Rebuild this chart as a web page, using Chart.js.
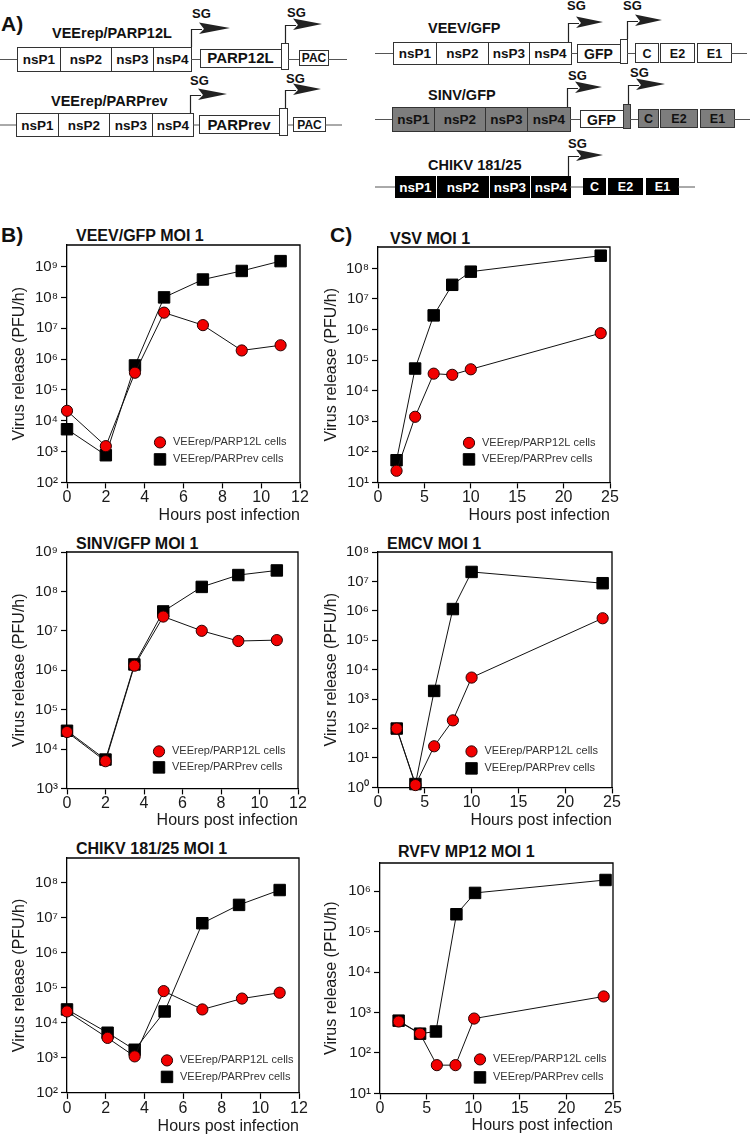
<!DOCTYPE html>
<html><head><meta charset="utf-8">
<script src="https://cdn.jsdelivr.net/npm/chart.js@4.4.1/dist/chart.umd.min.js"></script>
<style>
html,body{margin:0;padding:0;background:#fff;}
body{width:750px;height:1135px;position:relative;overflow:hidden;font-family:"Liberation Sans",Arial,sans-serif;}
#schem{position:absolute;left:0;top:0;}
canvas{position:absolute;}
</style></head><body>
<svg id="schem" width="750" height="1135" xmlns="http://www.w3.org/2000/svg"></svg>
<script>
// ---------------- DATA ----------------
const seriesLabels = ['VEErep/PARP12L cells', 'VEErep/PARPrev cells'];
const xAxisTitle = 'Hours post infection';
const yAxisTitle = 'Virus release (PFU/h)';

const veevX = [0, 2, 3.5, 5, 7, 9, 11];
const veevParp12L = [2.1e4, 1.5e3, 3.6e5, 3.2e7, 1.26e7, 1.9e6, 2.8e6];
const veevParpRev = [5.3e3, 7.6e2, 6.2e5, 1.0e8, 3.8e8, 7.2e8, 1.5e9];

const sinvX = [0, 2, 3.5, 5, 7, 8.9, 10.9];
const sinvParp12L = [2.7e4, 4.9e3, 1.3e6, 2.3e7, 1.0e7, 5.5e6, 5.8e6];
const sinvParpRev = [2.9e4, 5.4e3, 1.4e6, 3.1e7, 1.3e8, 2.6e8, 3.4e8];

const chikvXParp12L = [0, 2.1, 3.5, 5, 7, 9.05, 11];
const chikvXParpRev = [0, 2.1, 3.5, 5.05, 7, 8.9, 11];
const chikvParp12L = [2.1e4, 3.7e3, 1.1e3, 8.0e4, 2.4e4, 4.9e4, 7.2e4];
const chikvParpRev = [2.4e4, 5.2e3, 1.7e3, 2.1e4, 6.9e6, 2.3e7, 6.1e7];

const vsvX = [2, 4, 6, 8, 10, 24];
const vsvParp12L = [24, 1.4e3, 3.6e4, 3.3e4, 5.0e4, 7.6e5];
const vsvParpRev = [53, 5.3e4, 2.9e6, 2.9e7, 7.8e7, 2.6e8];

const emcvX = [2, 4, 6, 8, 10, 24];
const emcvParp12L = [100, 1.2, 25, 190, 5.4e3, 5.6e5];
const emcvParpRev = [100, 1.3, 1.9e3, 1.15e6, 2.1e7, 8.7e6];

const rvfvXParp12L = [2, 4.3, 6.1, 8.1, 10.1, 24];
const rvfvXParpRev = [2, 4.3, 6, 8.2, 10.2, 24.2];
const rvfvParp12L = [600, 300, 50, 50, 710, 2.5e3];
const rvfvParpRev = [630, 300, 340, 2.7e5, 9.1e5, 1.9e6];

const bTimeTicks = [0, 2, 4, 6, 8, 10, 12];
const cTimeTicks = [0, 5, 10, 15, 20, 25];

// ---------------- SCHEMATIC (panel A) + static texts ----------------
const FONT = '"Liberation Sans", Arial, Helvetica, sans-serif';
const svgNS = 'http://www.w3.org/2000/svg';
const svg = document.getElementById('schem');
function el(tag, attrs, txt){ const e=document.createElementNS(svgNS,tag); for(const k in attrs) e.setAttribute(k,attrs[k]); if(txt!=null) e.textContent=txt; svg.appendChild(e); return e; }
function rect(x1,y1,x2,y2,fill,stroke){ el('rect',{x:x1+0.5,y:y1+0.5,width:x2-x1,height:y2-y1,fill:fill||'#fff',stroke:stroke||'#333','stroke-width':1}); }
function line(x1,y1,x2,y2,c){ el('line',{x1:x1,y1:y1+0.5,x2:x2,y2:y2+0.5,stroke:c||'#555','stroke-width':1}); }
function text(x,y,s,size,o){ o=o||{}; el('text',{x:x,y:y,'font-size':size,'font-weight':o.w||'bold','font-family':FONT,fill:o.fill||'#111','text-anchor':o.anchor||'start'}, s); }
function arrow(x,yb,yt,tip){
  el('path',{d:`M${x+0.5},${yb} V${yt+0.5} H${x+11}`,fill:'none',stroke:'#222','stroke-width':1.2});
  el('path',{d:`M${x+8},${yt-6.5} L${tip},${yt-1} L${x+8},${yt+5} L${x+13},${yt} Z`,fill:'#222'});
}
function segs(xs,y1,y2,labels,fill,tcol,size,sep){
  for(let i=0;i<labels.length;i++){
    const a=xs[i][0], b=xs[i][1];
    rect(a,y1,b,y2,fill,sep?fill:'#333');
    text((a+b)/2+0.5,(y1+y2)/2+0.5+size*0.36,labels[i],size,{fill:tcol,anchor:'middle'});
  }
}
const nsLabels=['nsP1','nsP2','nsP3','nsP4'];
const strLabels=['C','E2','E1'];

text(1,31,'A)',21);
text(1,242,'B)',21);
text(330,242,'C)',21);

// Left: VEErep/PARP12L
text(52,37.5,'VEErep/PARP12L',14.5);
line(0,59,17,59);
segs([[17,60],[60,111],[111,153],[153,191]],47,71,nsLabels,'#fff','#111',13.5);
line(191,59,200,59);
rect(200,49,281,67); text(240.5,63,'PARP12L',15,{anchor:'middle'});
rect(281,43,288,69);
line(288,59,299,59);
rect(299,50,328,65); text(314,62,'PAC',12,{anchor:'middle'});
line(328,59,347,59);
arrow(191,47,29,230); text(192,18,'SG',13);
arrow(285,43,25,322); text(287,16.5,'SG',13);

// Left: VEErep/PARPrev
text(51,105.5,'VEErep/PARPrev',14.5);
line(0,124.5,16,124.5);
segs([[16,58],[58,109],[109,152],[152,193]],113,136,nsLabels,'#fff','#111',13.5);
line(193,124.5,199,124.5);
rect(199,115,279,133); text(239,129.5,'PARPrev',15,{anchor:'middle'});
rect(279,108,287,135);
line(287,124.5,293,124.5);
rect(293,117,325,131); text(309.5,128.5,'PAC',12,{anchor:'middle'});
line(325,124.5,342,124.5);
arrow(190,113,95,227); text(190,85,'SG',13);
arrow(285,108,90,321); text(286,82.5,'SG',13);

// Right: VEEV/GFP
text(428,33,'VEEV/GFP',14.5);
line(375,53,393,53);
segs([[393,436],[436,488],[488,529],[529,571]],42,64,nsLabels,'#fff','#111',13.5);
line(571,53,577,53);
rect(577,44,620,62); text(598.5,58.5,'GFP',14,{anchor:'middle'});
rect(620,39,627,63);
line(627,53,635,53);
segs([[635,658],[660,694],[697,731]],43,62,strLabels,'#fff','#111',12.5);
line(731,53,747,53);
arrow(568,42,23,603); text(567,10,'SG',13);
arrow(627,39,21,662); text(623,10,'SG',13);

// Right: SINV/GFP
const GR='#7d7d7d';
text(428,99.5,'SINV/GFP',14.5);
line(375,119,392,119);
segs([[392,434],[434,485],[485,527],[527,570]],107,131,nsLabels,GR,'#111',13.5);
line(570,119,580,119);
rect(580,110,623,127); text(601.5,124.5,'GFP',14,{anchor:'middle'});
rect(623,104,630,128,GR);
line(630,119,638,119);
segs([[638,658],[660,697],[700,734]],109,127,strLabels,GR,'#111',12.5);
line(734,119,750,119);
arrow(567,107,88,602); text(568,80,'SG',13);
arrow(628,104,85,665); text(630,76.5,'SG',13);

// Right: CHIKV 181/25
text(428,169.5,'CHIKV 181/25',14.5);
line(375,186.5,395,186.5);
segs([[395,435],[437,488],[490,529],[531,570]],176,197,nsLabels,'#000','#fff',13.5,true);
line(570,186.5,583,186.5);
segs([[583,605],[608,642],[646,678]],178,194,strLabels,'#000','#fff',12.5,true);
line(678,186.5,695,186.5);
arrow(568,176,156,603); text(568,147.5,'SG',13);

// ---------------- CHARTS ----------------
const SUP=['⁰','¹','²','³','⁴','⁵','⁶','⁷','⁸','⁹'];
const framePlugin={id:'frame',beforeDatasetsDraw(chart){const {ctx,chartArea:a}=chart;ctx.save();ctx.strokeStyle='#000';ctx.lineWidth=1.3;ctx.beginPath();ctx.moveTo(a.left,a.top);ctx.lineTo(a.right,a.top);ctx.lineTo(a.right,a.bottom);ctx.stroke();ctx.restore();}};
const legendPlugin={id:'inLegend',afterDatasetsDraw(chart,args,opts){
  const {ctx,chartArea:a}=chart; const x=a.left+opts.dx; const ys=[a.bottom+opts.dy1,a.bottom+opts.dy2];
  chart.data.datasets.forEach((ds,i)=>{
    ctx.save();
    ctx.fillStyle=ds.pointBackgroundColor; ctx.strokeStyle=ds.pointBorderColor; ctx.lineWidth=ds.pointBorderWidth;
    Chart.helpers.drawPoint(ctx,{pointStyle:ds.pointStyle,radius:ds.pointRadius,borderWidth:ds.pointBorderWidth,rotation:0},x,ys[i]);
    ctx.font='11px '+FONT; ctx.fillStyle='#333'; ctx.textBaseline='middle'; ctx.textAlign='left';
    ctx.fillText(ds.label,x+13,ys[i]);
    ctx.restore();
  });
}};

function pts(xs,ys){return xs.map((x,i)=>({x:x,y:ys[i]}));}

function buildChart(p){
  const padTop=12, padRight=22, padBottom=2;
  const cy=p.area.t-padTop;
  const W=p.area.r+padRight-p.cx;
  const xH=p.xTitleY+9.6-p.area.b;
  const H=Math.round(p.area.b+xH+padBottom-cy);
  const yW=p.area.l-p.cx;
  const cv=document.createElement('canvas');
  cv.width=W; cv.height=H; cv.style.left=p.cx+'px'; cv.style.top=cy+'px'; cv.style.width=W+'px'; cv.style.height=H+'px';
  document.body.appendChild(cv);
  const gridOpt={drawOnChartArea:false,drawTicks:true,tickLength:6,tickColor:'#000',tickWidth:1.2};
  const borderOpt={display:true,color:'#000',width:1.3};
  new Chart(cv,{
    type:'line',
    data:{datasets:[
      {label:seriesLabels[0],data:pts(p.xr,p.red),borderColor:'#111',borderWidth:1,pointStyle:'circle',pointRadius:5.6,pointBackgroundColor:'#f20000',pointBorderColor:'#2a0000',pointBorderWidth:1,clip:false,tension:0,fill:false},
      {label:seriesLabels[1],data:pts(p.xb,p.black),borderColor:'#111',borderWidth:1,pointStyle:'rect',pointRadius:8.1,pointBackgroundColor:'#000',pointBorderColor:'#000',pointBorderWidth:1,clip:false,tension:0,fill:false}
    ]},
    options:{
      responsive:false,animation:false,devicePixelRatio:1,
      layout:{padding:{top:padTop,right:padRight,bottom:padBottom,left:0}},
      plugins:{legend:{display:false},tooltip:{enabled:false},inLegend:p.lg},
      scales:{
        x:{type:'linear',position:'bottom',min:p.xTicks[0],max:p.xTicks[p.xTicks.length-1],
          afterBuildTicks:s=>{s.ticks=p.xTicks.map(v=>({value:v}));},
          ticks:{font:{family:FONT,size:16},color:'#1a1a1a',padding:0,maxRotation:0,autoSkip:false},
          grid:gridOpt,border:borderOpt,
          title:{display:true,text:xAxisTitle,align:'end',font:{family:FONT,size:16},color:'#1a1a1a',padding:{top:0,bottom:0}},
          afterFit:s=>{s.height=xH;}},
        y:{type:'logarithmic',position:'left',min:p.ymin,max:p.ymax,
          afterBuildTicks:s=>{s.ticks=p.yexp.map(e=>({value:Math.pow(10,e)}));},
          ticks:{callback:v=>'10'+SUP[Math.round(Math.log10(v))],font:{family:FONT,size:15},color:'#1a1a1a',padding:3,autoSkip:false},
          grid:gridOpt,border:borderOpt,
          title:{display:true,text:yAxisTitle,font:{family:FONT,size:16},color:'#1a1a1a',padding:{top:p.yTitleX-p.cx-9.6,bottom:0}},
          afterFit:s=>{s.width=yW;}}
      }
    },
    plugins:[framePlugin,legendPlugin]
  });
  text(p.titleX,p.titleY,p.title,16);
}

const range=(a,b)=>{const r=[];for(let i=a;i<=b;i++)r.push(i);return r;};

buildChart({title:'VEEV/GFP MOI 1',titleX:76,titleY:241,cx:0,area:{l:67,t:245,r:300,b:482},yTitleX:20,xTitleY:515,
  ymin:1e2,ymax:5e9,yexp:range(2,9),xTicks:bTimeTicks,xr:veevX,xb:veevX,red:veevParp12L,black:veevParpRev,lg:{dx:93,dy1:-40,dy2:-23}});
buildChart({title:'SINV/GFP MOI 1',titleX:76,titleY:548.5,cx:0,area:{l:67,t:552,r:298,b:788},yTitleX:20,xTitleY:820,
  ymin:1e3,ymax:1e9,yexp:range(3,9),xTicks:bTimeTicks,xr:sinvX,xb:sinvX,red:sinvParp12L,black:sinvParpRev,lg:{dx:92,dy1:-37,dy2:-21}});
buildChart({title:'CHIKV 181/25 MOI 1',titleX:76,titleY:854,cx:0,area:{l:67,t:858,r:299,b:1093},yTitleX:20,xTitleY:1126.5,
  ymin:1e2,ymax:5e8,yexp:range(2,8),xTicks:bTimeTicks,xr:chikvXParp12L,xb:chikvXParpRev,red:chikvParp12L,black:chikvParpRev,lg:{dx:100,dy1:-32.5,dy2:-16}});
buildChart({title:'VSV MOI 1',titleX:390,titleY:243.5,cx:310,area:{l:378,t:247,r:610,b:482},yTitleX:332,xTitleY:515,
  ymin:1e1,ymax:5e8,yexp:range(1,8),xTicks:cTimeTicks,xr:vsvX,xb:vsvX,red:vsvParp12L,black:vsvParpRev,lg:{dx:91,dy1:-39.5,dy2:-23}});
buildChart({title:'EMCV MOI 1',titleX:387,titleY:548.5,cx:310,area:{l:378,t:552,r:612,b:787},yTitleX:332,xTitleY:820,
  ymin:1e0,ymax:1e8,yexp:range(0,8),xTicks:cTimeTicks,xr:emcvX,xb:emcvX,red:emcvParp12L,black:emcvParpRev,lg:{dx:93.5,dy1:-36,dy2:-19}});
buildChart({title:'RVFV MP12 MOI 1',titleX:398,titleY:856.5,cx:310,area:{l:380,t:863,r:613,b:1093},yTitleX:332,xTitleY:1125,
  ymin:1e1,ymax:5e6,yexp:range(1,6),xTicks:cTimeTicks,xr:rvfvXParp12L,xb:rvfvXParpRev,red:rvfvParp12L,black:rvfvParpRev,lg:{dx:100,dy1:-34,dy2:-16}});
</script>
</body></html>
